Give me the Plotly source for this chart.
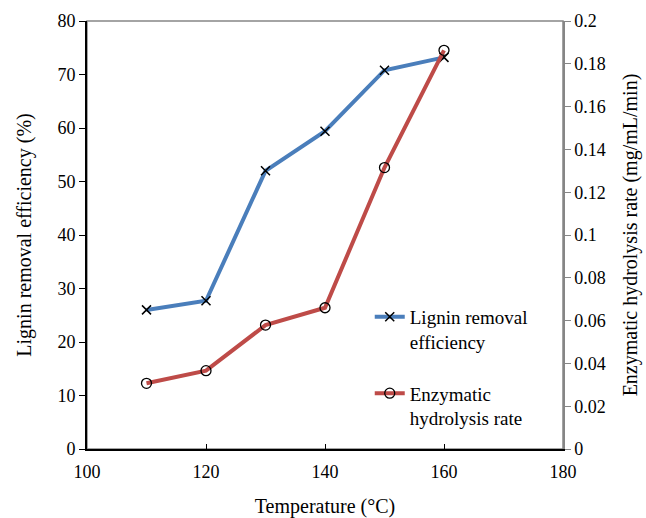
import plotly.graph_objects as go

temperature = [110, 120, 130, 140, 150, 160]
lignin_removal = [26.0, 27.7, 52.0, 59.4, 70.8, 73.2]
hydrolysis_rate = [0.0307, 0.0366, 0.0579, 0.0660, 0.1315, 0.1863]

FONT = "Liberation Serif, Times New Roman, serif"

fig = go.Figure()
fig.add_trace(go.Scatter(
    x=temperature, y=lignin_removal, name="Lignin removal<br>efficiency",
    mode="lines+markers", legendgroup="a",
    line=dict(color="#4A7EBB", width=4),
    marker=dict(symbol="x-thin-open", size=9, line=dict(color="black", width=1.5), color="black"),
))
fig.add_trace(go.Scatter(
    x=temperature, y=hydrolysis_rate, name="Enzymatic<br>hydrolysis rate",
    mode="lines+markers", legendgroup="b", yaxis="y2",
    line=dict(color="#BE4B48", width=4),
    marker=dict(symbol="circle-open", size=10, line=dict(color="black", width=1.3), color="black"),
))

fig.add_shape(type="rect", xref="paper", yref="paper", x0=0, x1=1, y0=0, y1=1,
              line=dict(color="#868686", width=1.5), layer="below")

fig.update_layout(
    width=646, height=518,
    margin=dict(l=87, r=83, t=21, b=69, autoexpand=False),
    paper_bgcolor="white", plot_bgcolor="white",
    font=dict(family=FONT, size=18, color="black"),
    showlegend=True,
    legend=dict(x=0.594, y=0.353, xanchor="left", yanchor="top", valign="top",
                font=dict(family=FONT, size=19), tracegroupgap=24,
                bgcolor="rgba(0,0,0,0)"),
    xaxis=dict(range=[100, 180], dtick=20, tick0=100, showgrid=False, zeroline=False,
               showline=True, linecolor="black", linewidth=2, automargin=False,
               ticks="inside", ticklen=5, tickcolor="black", ticklabelstandoff=5,
               title=dict(text="Temperature (°C)", font=dict(size=20), standoff=18)),
    yaxis=dict(range=[0, 80], dtick=10, showgrid=False, zeroline=False,
               showline=True, linecolor="black", linewidth=2, automargin=False,
               ticks="outside", ticklen=6, tickcolor="black",
               title=dict(text="Lignin removal efficiency (%)", font=dict(size=20), standoff=20)),
    yaxis2=dict(range=[0, 0.2], dtick=0.02, overlaying="y", side="right",
                showgrid=False, zeroline=False, automargin=False,
                showline=True, linecolor="#868686", linewidth=1.5,
                ticks="outside", ticklen=6, tickcolor="#868686",
                title=dict(text="Enzymatic hydrolysis rate (mg/mL/min)", font=dict(size=20), standoff=18)),
)

fig.write_html("out.html")
